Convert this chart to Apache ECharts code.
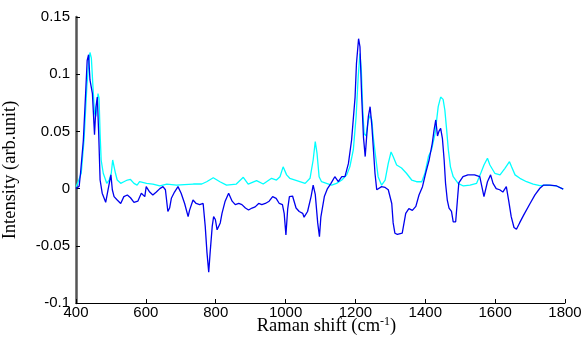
<!DOCTYPE html>
<html>
<head>
<meta charset="utf-8">
<script src="https://cdn.jsdelivr.net/npm/echarts@6/dist/echarts.min.js"></script>
<style>
  html, body { margin: 0; padding: 0; background: #fff; }
  #chart { width: 584px; height: 340px; }
</style>
</head>
<body>
<div id="chart"></div>
<script>
// x axis ticks
const shiftTicks = [400, 600, 800, 1000, 1200, 1400, 1600, 1800];
const intensityTicks = [-0.1, -0.05, 0, 0.05, 0.1, 0.15];

// cyan spectrum
const cyanShift = [400, 405, 415, 423, 431, 437, 440, 444, 448, 453, 457, 463, 466, 469, 472, 478, 488, 495, 501, 505, 509, 513, 518, 528, 537, 547, 556, 566, 575, 582, 602, 620, 640, 660, 688, 710, 736, 760, 774, 793, 812, 831, 859, 879, 893, 917, 936, 960, 974, 984, 993, 1003, 1012, 1032, 1056, 1070, 1079, 1085, 1090, 1096, 1103, 1117, 1132, 1146, 1161, 1175, 1184, 1194, 1202, 1208, 1213, 1217, 1221, 1225, 1230, 1237, 1242, 1247, 1251, 1259, 1265, 1275, 1285, 1294, 1302, 1308, 1318, 1332, 1346, 1361, 1375, 1390, 1399, 1409, 1418, 1428, 1437, 1444, 1451, 1456, 1461, 1466, 1472, 1480, 1494, 1509, 1528, 1547, 1557, 1568, 1578, 1585, 1599, 1614, 1628, 1641, 1647, 1657, 1671, 1690, 1709, 1728, 1747, 1776, 1795];
const cyanIntensity = [0.0017, 0.005, 0.0134, 0.0425, 0.089, 0.112, 0.119, 0.114, 0.092, 0.066, 0.063, 0.083, 0.079, 0.048, 0.025, 0.0134, 0.0046, 0.0075, 0.0134, 0.025, 0.024, 0.0134, 0.0075, 0.0046, 0.006, 0.0075, 0.008, 0.0046, 0.003, 0.006, 0.0046, 0.004, 0.0023, 0.004, 0.003, 0.0035, 0.004, 0.004, 0.006, 0.0095, 0.006, 0.003, 0.004, 0.0099, 0.004, 0.007, 0.004, 0.009, 0.0075, 0.0104, 0.019, 0.012, 0.009, 0.007, 0.0046, 0.009, 0.025, 0.041, 0.031, 0.0104, 0.006, 0.0046, 0.003, 0.0046, 0.0075, 0.012, 0.019, 0.034, 0.063, 0.098, 0.118, 0.103, 0.0687, 0.048, 0.046, 0.06, 0.064, 0.06, 0.045, 0.025, 0.0104, 0.003, 0.0075, 0.022, 0.032, 0.028, 0.0206, 0.018, 0.0134, 0.0075, 0.006, 0.006, 0.0134, 0.028, 0.034, 0.048, 0.0716, 0.08, 0.078, 0.0687, 0.052, 0.034, 0.019, 0.0104, 0.0046, 0.0023, 0.003, 0.0046, 0.012, 0.0206, 0.0265, 0.0206, 0.0134, 0.012, 0.0177, 0.0235, 0.019, 0.012, 0.009, 0.006, 0.004, 0.0026, 0.003, 0.0023, -0.0004];

// blue spectrum
const blueShift = [400, 404, 409, 413, 421, 428, 432, 436, 440, 447, 453, 457, 461, 465, 469, 475, 485, 490, 497, 500, 504, 509, 518, 528, 537, 547, 556, 566, 577, 587, 597, 601, 611, 620, 630, 640, 649, 656, 663, 668, 673, 682, 692, 701, 711, 721, 725, 735, 744, 754, 764, 770, 775, 780, 784, 790, 794, 799, 804, 809, 813, 818, 827, 837, 842, 847, 856, 866, 875, 885, 894, 904, 913, 923, 932, 942, 953, 963, 973, 982, 991, 996, 1001, 1006, 1011, 1020, 1030, 1039, 1049, 1053, 1063, 1073, 1079, 1085, 1092, 1097, 1101, 1111, 1120, 1130, 1141, 1151, 1161, 1170, 1180, 1189, 1199, 1203, 1209, 1213, 1218, 1223, 1228, 1232, 1237, 1242, 1247, 1251, 1256, 1261, 1266, 1275, 1285, 1294, 1304, 1308, 1313, 1320, 1334, 1344, 1353, 1363, 1373, 1382, 1392, 1401, 1411, 1420, 1425, 1430, 1435, 1439, 1444, 1449, 1454, 1458, 1463, 1468, 1475, 1480, 1487, 1492, 1496, 1508, 1522, 1541, 1556, 1562, 1568, 1578, 1587, 1594, 1603, 1613, 1622, 1632, 1639, 1646, 1654, 1661, 1670, 1682, 1700, 1714, 1728, 1738, 1757, 1776, 1795];
const blueIntensity = [0, -0.001, 0.002, 0.0136, 0.042, 0.086, 0.112, 0.117, 0.095, 0.083, 0.047, 0.071, 0.08, 0.048, 0.0075, -0.004, -0.012, -0.012, 0.0075, 0.012, -0.001, -0.007, -0.01, -0.013, -0.007, -0.0056, -0.008, -0.012, -0.011, -0.004, -0.007, 0.0017, -0.003, -0.0056, -0.003, 0, 0.0017, -0.001, -0.02, -0.017, -0.0085, -0.003, 0.0017, -0.004, -0.013, -0.0245, -0.019, -0.01, -0.013, -0.014, -0.013, -0.033, -0.056, -0.073, -0.056, -0.033, -0.0245, -0.027, -0.036, -0.037, -0.03, -0.0216, -0.011, -0.004, -0.0055, -0.011, -0.014, -0.013, -0.014, -0.017, -0.0187, -0.017, -0.016, -0.013, -0.014, -0.013, -0.011, -0.007, -0.0085, -0.013, -0.014, -0.0216, -0.0406, -0.018, -0.007, -0.0065, -0.017, -0.02, -0.0216, -0.025, -0.02, -0.007, 0.003, -0.005, -0.03, -0.042, -0.025, -0.007, 0, 0.0046, 0.0104, 0.006, 0.0104, 0.0104, 0.022, 0.0425, 0.08, 0.1095, 0.131, 0.124, 0.08, 0.045, 0.028, 0.045, 0.063, 0.0716, 0.055, 0.0366, 0.0134, -0.001, -0.0015, 0.0017, 0.001, -0.001, -0.013, -0.03, -0.039, -0.04, -0.039, -0.0216, -0.0175, -0.019, -0.0155, -0.0056, 0.0017, 0.0134, 0.025, 0.0396, 0.051, 0.06, 0.046, 0.05, 0.0527, 0.044, 0.025, 0.0047, -0.01, -0.017, -0.02, -0.029, -0.029, -0.01, 0.005, 0.0104, 0.012, 0.012, 0.0104, 0.0017, -0.007, 0.006, 0.012, 0.0046, 0, -0.001, -0.003, 0.0017, -0.011, -0.0245, -0.034, -0.0356, -0.03, -0.023, -0.013, -0.0055, 0.0003, 0.003, 0.003, 0.0023, -0.0005];

const toPairs = (xs, ys) => xs.map((x, i) => [x, ys[i]]);

const chart = echarts.init(document.getElementById("chart"));

const tickFont = { color: "#000", fontSize: 15, fontFamily: "Liberation Sans, Arial, sans-serif" };
const titleFont = { color: "#000", fontSize: 18.5, fontFamily: "Liberation Serif, Times New Roman, serif" };

chart.setOption({
  animation: false,
  grid: { left: 76, right: 19, top: 17, bottom: 37, outerBoundsMode: "none" },
  xAxis: {
    type: "value",
    min: shiftTicks[0],
    max: shiftTicks[shiftTicks.length - 1],
    interval: 200,
    name: "{a|Raman shift (cm}{s|-1}{a|)}",
    nameLocation: "middle",
    nameGap: 13,
    nameMoveOverlap: false,
    nameTextStyle: {
      padding: [0, 0, 0, 12],
      rich: {
        a: { ...titleFont },
        s: { ...titleFont, fontSize: 12, verticalAlign: "top", padding: [0, 0, 8, 0] },
      },
    },
    axisLine: { onZero: false, lineStyle: { color: "#000", width: 1 } },
    axisTick: { inside: true, length: 4, lineStyle: { color: "#000" } },
    axisLabel: { ...tickFont, margin: 2, formatter: (v) => String(v) },
    splitLine: { show: false },
  },
  yAxis: {
    type: "value",
    min: intensityTicks[0],
    max: intensityTicks[intensityTicks.length - 1],
    interval: 0.05,
    name: "Intensity (arb.unit)",
    nameLocation: "middle",
    nameRotate: 90,
    nameGap: 56,
    nameMoveOverlap: false,
    nameTextStyle: { ...titleFont, padding: [0, 20, 0, 0] },
    axisLine: { onZero: false, lineStyle: { color: "#555", width: 2.5 } },
    axisTick: { inside: true, length: 4, lineStyle: { color: "#000" } },
    axisLabel: {
      ...tickFont,
      margin: 6,
      formatter: (v) => String(parseFloat(v.toFixed(2))),
    },
    splitLine: { show: false },
  },
  series: [
    {
      name: "cyan",
      type: "line",
      data: toPairs(cyanShift, cyanIntensity),
      showSymbol: false,
      lineStyle: { color: "#00ffff", width: 1.3 },
    },
    {
      name: "blue",
      type: "line",
      data: toPairs(blueShift, blueIntensity),
      showSymbol: false,
      lineStyle: { color: "#0000ee", width: 1.3 },
    },
  ],
});
</script>
</body>
</html>
